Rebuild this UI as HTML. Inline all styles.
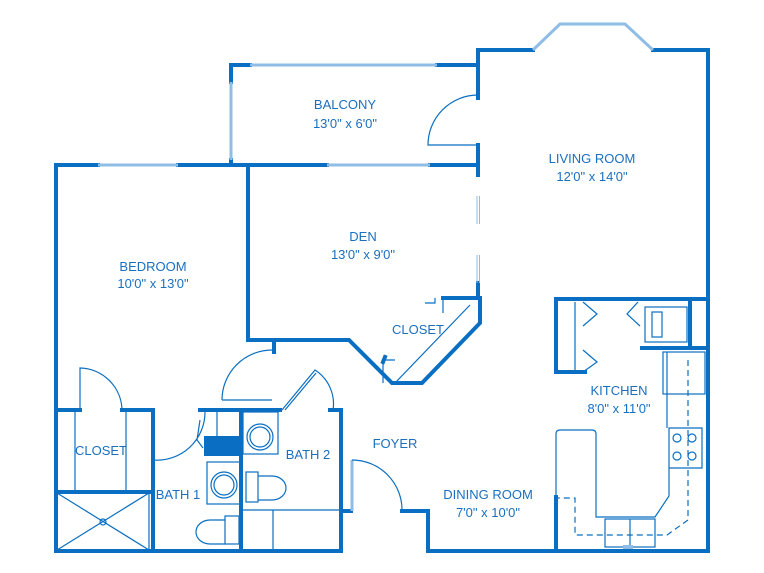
<!DOCTYPE html>
<html><head><meta charset="utf-8"><style>
html,body{margin:0;padding:0;background:#fff;}
svg{display:block;}
text{font-family:"Liberation Sans",sans-serif;fill:#1a6fbf;font-size:13px;text-anchor:middle;}
</style></head><body>
<svg width="764" height="573" viewBox="0 0 764 573" xmlns="http://www.w3.org/2000/svg">
<g fill="none" stroke="#0a6fc2" stroke-width="4" stroke-linecap="square">
<path d="M56 165 H98 M178 165 H248 M56 165 V551 H341"/>
<path d="M231 65 V82 M231 160 V165 M231 65 H250 M437 65 H478 M222 165 H327 M430 165 H478"/>
<path d="M478 98 V50 H533 M653 50 H708 V551 H428 V511 H402 M478 145 V175 M478 283 V298"/>
<path d="M248 165 V340 H349 L392 383 H422 L480 323 V298 H443"/>
<path d="M274 340 V352 M385 357 L383 362"/>
<path d="M56 410 H80 M122 410 H153 V551 M56 492 H150 M200 410 H241 V551 M241 410 H280 M330 410 H341 V551"/>
<path d="M341 511 H351"/>
<path d="M556 372 V299 H708 M556 372 H585 M690 299 V348 M642 348 H708 M556 497 V551"/>
<path d="M204 446 H241" stroke-width="20" stroke-linecap="butt"/>
</g>
<g fill="none" stroke="#8fbde6" stroke-width="3">
<path d="M98 165 H178 M250 65 H437 M231 82 V160 M327 165 H430 M533 50 L560 24 H625 L653 50 M352 460 V511"/>
</g>
<g fill="none" stroke="#8fbde6" stroke-width="1">
<path d="M477 196 V224 M479.5 196 V224 M477 255 V283 M479.5 255 V283"/>
</g>
<g fill="none" stroke="#0a6fc2" stroke-width="1.2">
<path d="M478 95 A50 50 0 0 0 428 145 H478"/>
<path d="M80 410 V368 A43 43 0 0 1 122 410"/>
<path d="M153 410 V460 A48 48 0 0 0 205 412 M200 420 L197 440 L203 448"/>
<path d="M222 400 A50 50 0 0 1 272 350 M222 400 H272"/>
<path d="M282 410 L315 370 A40 40 0 0 1 333 410 M285 410 L316 373"/>
<path d="M352 460 A50 50 0 0 1 402 511"/>
<path d="M395 383 L470 305 M443 298 V313 M395 360 H388 L383 360 V383"/>
<path d="M425 303 H435 V298"/>
<path d="M75 410 V492 M126 410 V492"/>
<rect x="57" y="493" width="92" height="57"/>
<path d="M57 493 L149 550 M149 493 L57 550"/>
<circle cx="103" cy="522" r="3"/>
<path d="M217 412 V446 M203 410 H241"/>
<rect x="207" y="462" width="34" height="42"/>
<circle cx="224" cy="485" r="13"/><circle cx="224" cy="485" r="10"/>
<rect x="225" y="516" width="14" height="28"/>
<path d="M225 520 H210 A14 12 0 0 0 210 544 H225"/>
<rect x="243" y="412" width="35" height="42"/>
<circle cx="260" cy="437" r="13"/><circle cx="260" cy="437" r="10"/>
<rect x="246" y="472" width="12" height="30"/>
<path d="M258 476 H272 A14 12 0 0 1 272 500 H258"/>
<path d="M243 510 H341 M273 510 V551"/>
<path d="M575 302 V372 M583 302 L597 314 L583 326 M583 350 L597 362 L583 372 M638 302 L627 314 L640 326"/>
<rect x="645" y="307" width="42" height="35"/>
<rect x="652" y="312" width="10" height="25"/>
<rect x="663" y="352" width="42" height="42"/>
<path d="M667 352 V394 M667 394 V428 M669 428 H702 V468 H669 Z M669 468 V496 L655 517 H596 V434 Q596 430 592 430 H560 Q556 430 556 434 V497"/>
<circle cx="677" cy="438" r="4"/><circle cx="692" cy="438" r="4"/>
<circle cx="677" cy="456" r="4"/><circle cx="692" cy="456" r="4"/>
<rect x="605" y="519" width="50" height="28"/>
<path d="M630 519 V547"/>
<path d="M688 360 V520 L667 535 H575 V498 H556" stroke-dasharray="6 4"/>
</g>
<rect x="623" y="545" width="10" height="4" fill="#8fbde6"/>
<text x="345" y="109">BALCONY</text>
<text x="345" y="128">13'0" x 6'0"</text>
<text x="592" y="163">LIVING ROOM</text>
<text x="592" y="181">12'0" x 14'0"</text>
<text x="363" y="241">DEN</text>
<text x="363" y="259">13'0" x 9'0"</text>
<text x="153" y="271">BEDROOM</text>
<text x="153" y="288">10'0" x 13'0"</text>
<text x="418" y="334">CLOSET</text>
<text x="619" y="395">KITCHEN</text>
<text x="619" y="413">8'0" x 11'0"</text>
<text x="101" y="455">CLOSET</text>
<text x="308" y="459">BATH 2</text>
<text x="395" y="448">FOYER</text>
<text x="178" y="499">BATH 1</text>
<text x="488" y="499">DINING ROOM</text>
<text x="488" y="517">7'0" x 10'0"</text>
</svg>
</body></html>
